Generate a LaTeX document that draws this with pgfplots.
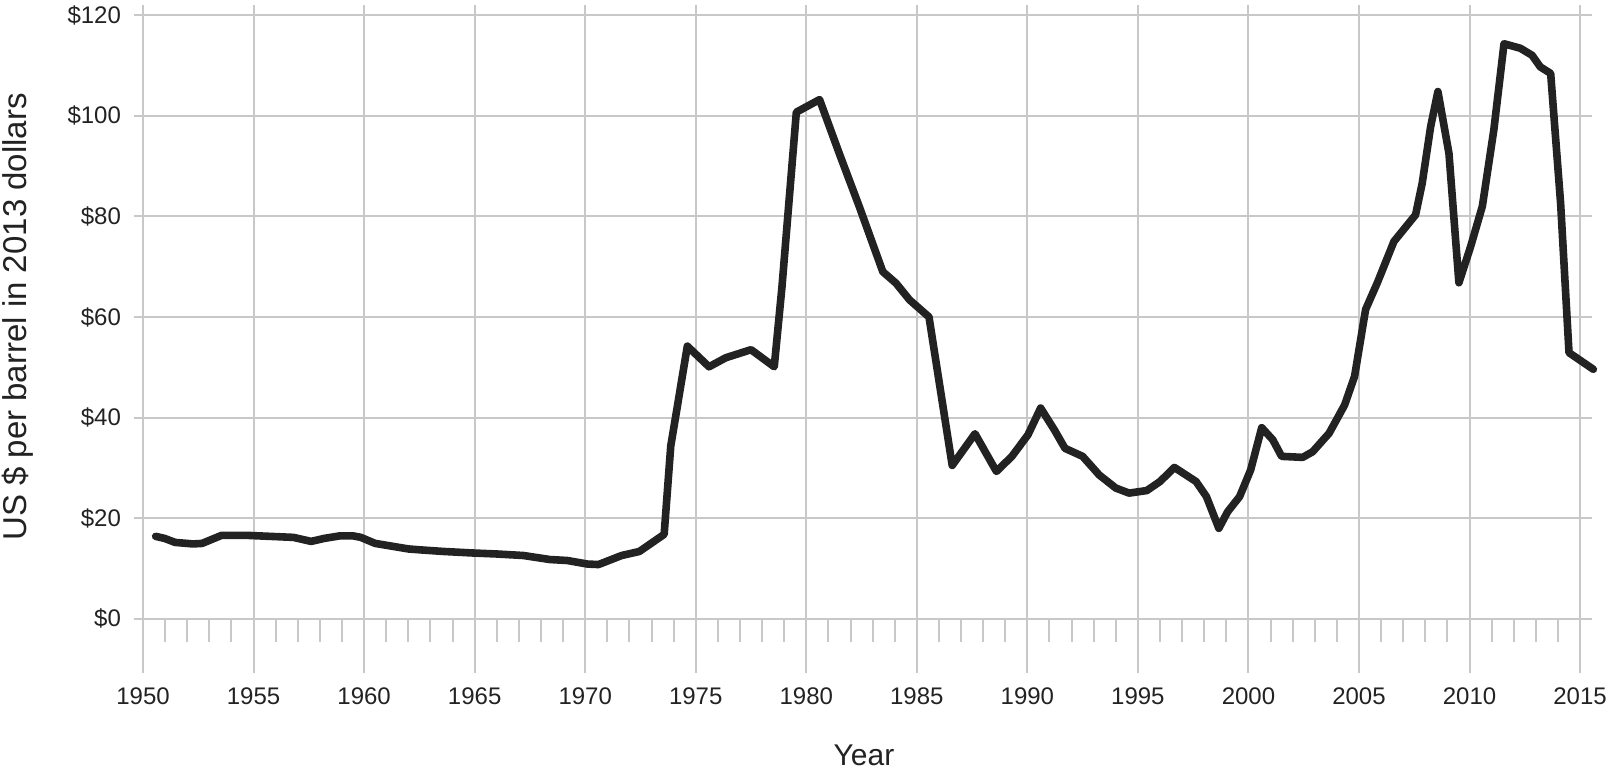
\documentclass[border=0pt]{standalone}
\usepackage{fontspec}
\setmainfont{Liberation Sans}
\usepackage{pgfplots}
\pgfplotsset{compat=1.18}
\definecolor{gridc}{HTML}{C8C8C8}
\definecolor{linec}{HTML}{222222}
\definecolor{textc}{HTML}{222222}

\begin{document}
\begin{tikzpicture}
\begin{axis}[
  scale only axis,
  width=729pt, height=334pt,
  xmin=1949.59, xmax=2015.54,
  ymin=-10.75, ymax=122,
  axis line style={draw=none},
  major tick length=0pt,
  xtick={1950,1955,...,2015},
  xticklabels={1950,1955,1960,1965,1970,1975,1980,1985,1990,1995,2000,2005,2010,2015},
  ytick={0,20,...,120},
  yticklabels={\$0,\$20,\$40,\$60,\$80,\$100,\$120},
  grid=major,
  major grid style={gridc, line width=1pt},
  tick label style={font=\fontsize{12}{14}\selectfont, text=textc},
  xticklabel style={anchor=base, yshift=-16pt},
  yticklabel style={xshift=-3pt},
  xlabel={Year},
  ylabel={US \$ per barrel in 2013 dollars},
  xlabel style={at={(axis description cs:0.5007,-0.1392)}, anchor=base, font=\fontsize{15}{18}\selectfont, text=textc},
  ylabel style={at={(axis description cs:-0.0734,0.533)}, anchor=base, font=\fontsize{16.5}{19}\selectfont, text=textc},
  clip=false,
]
\coordinate (SW) at (rel axis cs:0,0);
\coordinate (NE) at (rel axis cs:1,1);
\pgfplotsinvokeforeach{1951,1952,1953,1954,1956,1957,1958,1959,1961,1962,1963,1964,1966,1967,1968,1969,1971,1972,1973,1974,1976,1977,1978,1979,1981,1982,1983,1984,1986,1987,1988,1989,1991,1992,1993,1994,1996,1997,1998,1999,2001,2002,2003,2004,2006,2007,2008,2009,2011,2012,2013,2014}{
  \draw[gridc, line width=1pt] (axis cs:#1,0) -- (axis cs:#1,-4.58);
}
\addplot[linec, line width=3.8pt, line join=round, line cap=round] table {
x y
1950.57 16.4
1950.97 16.0
1951.45 15.2
1952.26 14.9
1952.67 15.0
1953.55 16.6
1954.7 16.6
1956.8 16.2
1957.6 15.4
1958.2 16.0
1958.9 16.5
1959.5 16.5
1959.85 16.2
1960.5 15.0
1962.0 13.9
1962.6 13.7
1963.6 13.4
1964.9 13.1
1966.0 12.9
1967.2 12.6
1968.4 11.8
1969.2 11.6
1970.1 10.9
1970.6 10.8
1971.65 12.6
1972.45 13.4
1973.57 16.8
1973.87 34.4
1974.62 54.2
1975.6 50.1
1976.36 51.9
1977.5 53.5
1978.55 50.1
1978.9 66.0
1979.55 100.7
1980.6 103.2
1981.5 92.4
1982.4 81.9
1983.46 69.0
1984.06 66.7
1984.67 63.4
1985.55 60.0
1986.6 30.5
1987.63 36.8
1988.6 29.3
1989.3 32.3
1990.03 36.6
1990.6 41.9
1991.23 37.5
1991.7 33.9
1992.5 32.3
1993.25 28.6
1994.0 26.0
1994.6 25.0
1995.4 25.5
1996.0 27.3
1996.65 30.1
1997.63 27.3
1998.1 24.3
1998.66 18.0
1999.06 21.3
1999.6 24.3
2000.1 29.6
2000.6 38.0
2001.1 35.6
2001.5 32.3
2002.45 32.1
2002.9 33.2
2003.65 36.9
2004.35 42.5
2004.8 48.2
2005.3 61.5
2005.83 66.8
2006.58 75.0
2007.56 80.3
2007.86 86.6
2008.24 97.8
2008.57 104.8
2009.07 92.5
2009.52 66.8
2010.05 74.0
2010.58 82.0
2011.1 97.2
2011.56 114.3
2012.3 113.4
2012.83 112.0
2013.2 109.7
2013.67 108.4
2014.12 82.6
2014.5 52.9
2015.6 49.6
};
\end{axis}
\pgfresetboundingbox
\useasboundingbox ([shift={(-67pt,-51pt)}]SW) rectangle ([shift={(10.5pt,2.5pt)}]NE);
\end{tikzpicture}
\end{document}
